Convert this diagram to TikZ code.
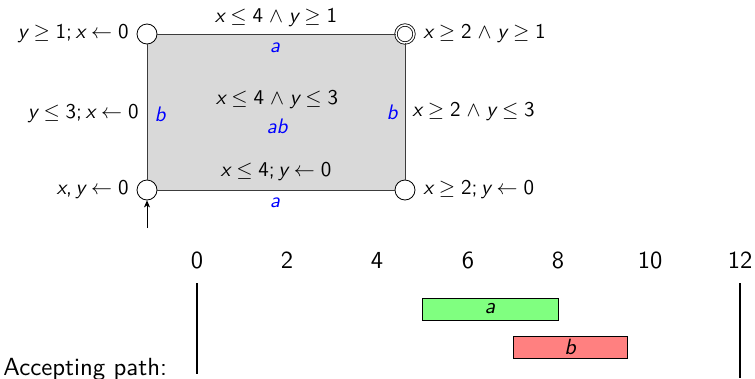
\documentclass[tikz,border=0pt]{standalone}
\usetikzlibrary{arrows.meta,backgrounds}
\newcommand\Vx{{\itshape x}}
\newcommand\Vy{{\itshape y}}
\newcommand\rl[1]{\hspace{0.28em}$#1$\hspace{0.28em}}
\newcommand\sm{;\hspace{0.17em}}
\definecolor{gbar}{RGB}{128,255,128}
\definecolor{rbar}{RGB}{255,128,128}
\definecolor{edgecol}{RGB}{60,60,60}
\begin{document}
\begin{tikzpicture}[x=1pt,y=-1pt,
  font=\sffamily\fontsize{10}{12}\selectfont,
  st/.style={circle,draw=black,fill=white,minimum size=20pt,inner sep=0pt,line width=0.8pt},
  acc/.style={double,double distance=1.6pt,minimum size=18pt},
  edge/.style={draw=edgecol,line width=1pt},
  lbl/.style={inner sep=0pt,scale=2.1,transform shape},
  act/.style={lbl,text=blue,font=\sffamily\itshape\fontsize{10}{12}\selectfont},
  tick/.style={inner sep=0pt,scale=2.45,transform shape},
  bar/.style={draw=black,line width=0.6pt,inner sep=0pt,minimum height=22pt},
  vline/.style={line width=1.6pt}]
\useasboundingbox (0,0) rectangle (755,378);
% states
\node[st] (tl) at (147,34) {};
\node[st,acc] (tr) at (405,34) {};
\node[st] (bl) at (147,190) {};
\node[st] (br) at (405,190) {};
\begin{scope}[on background layer]
\fill[black!15] (tl.center) rectangle (br.center);
\end{scope}
\draw[edge] (tl) -- (tr);
\draw[edge] (tr) -- (br);
\draw[edge] (bl) -- (br);
\draw[edge] (tl) -- (bl);
\coordinate (init) at (147,228);
\draw[-{Stealth[length=7pt,width=6pt,inset=2pt]},line width=0.8pt] (init) -- (bl);
% labels
\node[lbl] (g1) at (276,18) {\Vx\rl{\leq}4\rl{\wedge}\Vy\rl{\geq}1};
\node[act] (a1) at (275,48) {a};
\node[lbl] (g2) at (277,100) {\Vx\rl{\leq}4\rl{\wedge}\Vy\rl{\leq}3};
\node[act] (a2) at (277,126) {ab};
\node[lbl] (g3) at (276,172) {\Vx\rl{\leq}4\sm\Vy\rl{\leftarrow}0};
\node[act] (a3) at (275,203) {a};
\node[act] (a4) at (160,114) {b};
\node[lbl,anchor=east] (g4) at (139,114) {\Vy\rl{\leq}3\sm\Vx\rl{\leftarrow}0};
\node[act] (a5) at (392,112) {b};
\node[lbl,anchor=west] (g5) at (412,112) {\Vx\rl{\geq}2\rl{\wedge}\Vy\rl{\leq}3};
\node[lbl,anchor=east] (i1) at (129,34) {\Vy\rl{\geq}1\sm\Vx\rl{\leftarrow}0};
\node[lbl,anchor=west] (i2) at (423,34) {\Vx\rl{\geq}2\rl{\wedge}\Vy\rl{\geq}1};
\node[lbl,anchor=east] (i3) at (129,190) {\Vx,\hspace{0.17em}\Vy\rl{\leftarrow}0};
\node[lbl,anchor=west] (i4) at (423,190) {\Vx\rl{\geq}2\sm\Vy\rl{\leftarrow}0};
% timeline
\foreach \v/\px in {0/197,2/287,4/377,6/468,8/558,10/650,12/740}
  \node[tick] (t\v) at (\px,260) {\v};
\coordinate (s0) at (197,283);
\coordinate (e0) at (197,374);
\coordinate (s1) at (740,283);
\coordinate (e1) at (740,378);
\draw[vline] (s0) -- (e0);
\draw[vline] (s1) -- (e1);
\node[bar,fill=gbar,minimum width=136pt] (ba) at (490,309) {\scalebox{2.2}{\itshape a}};
\node[bar,fill=rbar,minimum width=114pt] (bb) at (570,347) {\scalebox{2.2}{\itshape b}};
\node[anchor=base west,inner sep=0pt,scale=2.48,transform shape] (ap) at (3,375) {Accepting path:};
\end{tikzpicture}
\end{document}
